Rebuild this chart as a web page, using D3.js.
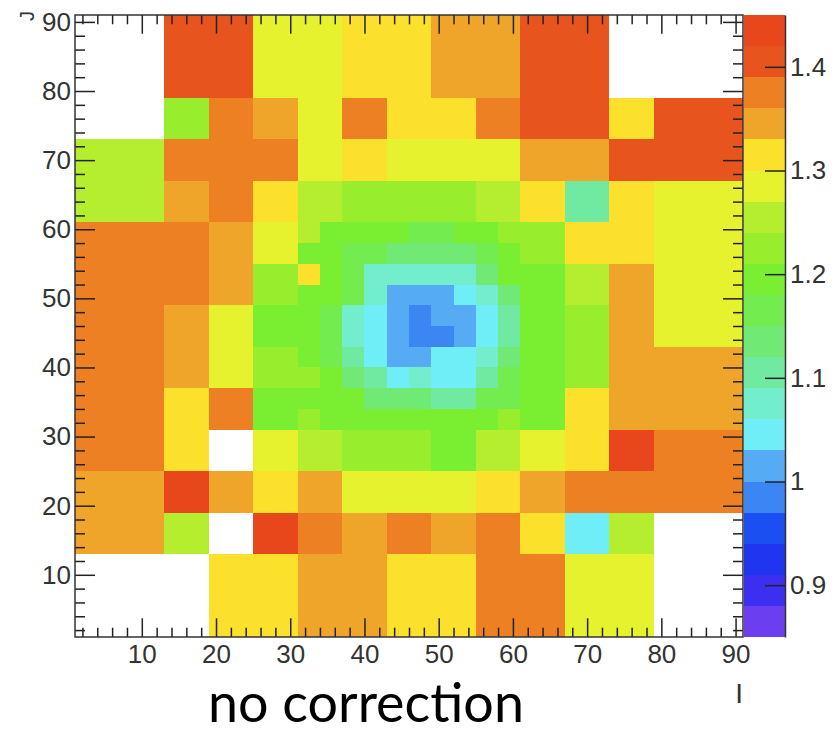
<!DOCTYPE html>
<html>
<head>
<meta charset="utf-8">
<script src="https://cdn.jsdelivr.net/npm/d3@7"></script>
<style>
  body { margin: 0; background: #fff; }
  svg { display: block; }
  .axis text { font-family: "Liberation Sans", Arial, sans-serif; font-size: 26px; fill: #333; }
  .axis line { stroke: #222; stroke-width: 1.5; }
  .axis path { stroke: #333; stroke-width: 1.5; }
</style>
</head>
<body>
<div id="chart"></div>
<script>
const _ = null;

// bin edges of the 30 x 30 histogram (i and j)
const xEdges = [1, 4, 7, 10, 13, 16, 19, 22, 25, 28, 31, 34, 37, 40, 43, 46, 49, 52, 55, 58, 61, 64, 67, 70, 73, 76, 79, 82, 85, 88, 91];
const yEdges = [1, 4, 7, 10, 13, 16, 19, 22, 25, 28, 31, 34, 37, 40, 43, 46, 49, 52, 55, 58, 61, 64, 67, 70, 73, 76, 79, 82, 85, 88, 91];

const xTickValues = [10, 20, 30, 40, 50, 60, 70, 80, 90];
const yTickValues = [10, 20, 30, 40, 50, 60, 70, 80, 90];
const zTickValues = [0.9, 1, 1.1, 1.2, 1.3, 1.4];
const zRange = [0.85, 1.45];

// 20 contour colours, lowest first
const paletteColors = [
  "#6b3ff0", "#3d2ff0", "#1f35ef", "#1b4ff2", "#3b86f2",
  "#55acf4", "#70eef8", "#72eecc", "#70eaa0", "#70ea74",
  "#72ec4e", "#7aee30", "#98ee2d", "#b4ee2e", "#e6f22e",
  "#fbe02c", "#efa42a", "#ec8022", "#e8541e", "#e8461b"
];

// ratio per bin, first row = top bin (j 88-91), null = empty bin
const ratioRows = [
  [_,_,_,_,1.40,1.40,1.40,1.40,1.28,1.28,1.28,1.28,1.32,1.32,1.32,1.32,1.35,1.35,1.35,1.35,1.40,1.40,1.40,1.40,_,_,_,_,_,_],
  [_,_,_,_,1.40,1.40,1.40,1.40,1.28,1.28,1.28,1.28,1.32,1.32,1.32,1.32,1.35,1.35,1.35,1.35,1.40,1.40,1.40,1.40,_,_,_,_,_,_],
  [_,_,_,_,1.40,1.40,1.40,1.40,1.28,1.28,1.28,1.28,1.32,1.32,1.32,1.32,1.35,1.35,1.35,1.35,1.40,1.40,1.40,1.40,_,_,_,_,_,_],
  [_,_,_,_,1.40,1.40,1.40,1.40,1.28,1.28,1.28,1.28,1.32,1.32,1.32,1.32,1.35,1.35,1.35,1.35,1.40,1.40,1.40,1.40,_,_,_,_,_,_],
  [_,_,_,_,1.22,1.22,1.37,1.37,1.35,1.35,1.28,1.28,1.37,1.37,1.32,1.32,1.32,1.32,1.37,1.37,1.40,1.40,1.40,1.40,1.32,1.32,1.40,1.40,1.40,1.40],
  [_,_,_,_,1.22,1.22,1.37,1.37,1.35,1.35,1.28,1.28,1.37,1.37,1.32,1.32,1.32,1.32,1.37,1.37,1.40,1.40,1.40,1.40,1.32,1.32,1.40,1.40,1.40,1.40],
  [1.25,1.25,1.25,1.25,1.37,1.37,1.37,1.37,1.37,1.37,1.28,1.28,1.32,1.32,1.28,1.28,1.28,1.28,1.28,1.28,1.35,1.35,1.35,1.35,1.40,1.40,1.40,1.40,1.40,1.40],
  [1.25,1.25,1.25,1.25,1.37,1.37,1.37,1.37,1.37,1.37,1.28,1.28,1.32,1.32,1.28,1.28,1.28,1.28,1.28,1.28,1.35,1.35,1.35,1.35,1.40,1.40,1.40,1.40,1.40,1.40],
  [1.25,1.25,1.25,1.25,1.35,1.35,1.37,1.37,1.32,1.32,1.25,1.25,1.22,1.22,1.22,1.22,1.22,1.22,1.25,1.25,1.32,1.32,1.10,1.10,1.32,1.32,1.28,1.28,1.28,1.28],
  [1.25,1.25,1.25,1.25,1.35,1.35,1.37,1.37,1.32,1.32,1.25,1.25,1.22,1.22,1.22,1.22,1.22,1.22,1.25,1.25,1.32,1.32,1.10,1.10,1.32,1.32,1.28,1.28,1.28,1.28],
  [1.37,1.37,1.37,1.37,1.37,1.37,1.35,1.35,1.28,1.28,1.25,1.19,1.19,1.19,1.19,1.16,1.16,1.19,1.19,1.22,1.22,1.22,1.32,1.32,1.32,1.32,1.28,1.28,1.28,1.28],
  [1.37,1.37,1.37,1.37,1.37,1.37,1.35,1.35,1.28,1.28,1.19,1.19,1.16,1.16,1.13,1.13,1.13,1.13,1.16,1.19,1.22,1.22,1.32,1.32,1.32,1.32,1.28,1.28,1.28,1.28],
  [1.37,1.37,1.37,1.37,1.37,1.37,1.35,1.35,1.22,1.22,1.32,1.19,1.16,1.08,1.08,1.08,1.08,1.08,1.13,1.19,1.19,1.19,1.25,1.25,1.35,1.35,1.28,1.28,1.28,1.28],
  [1.37,1.37,1.37,1.37,1.37,1.37,1.35,1.35,1.22,1.22,1.19,1.19,1.16,1.08,1.02,1.02,1.02,1.05,1.08,1.13,1.19,1.19,1.25,1.25,1.35,1.35,1.28,1.28,1.28,1.28],
  [1.37,1.37,1.37,1.37,1.35,1.35,1.28,1.28,1.19,1.19,1.19,1.16,1.08,1.05,1.02,0.98,1.02,1.02,1.05,1.10,1.19,1.19,1.22,1.22,1.35,1.35,1.28,1.28,1.28,1.28],
  [1.37,1.37,1.37,1.37,1.35,1.35,1.28,1.28,1.19,1.19,1.19,1.16,1.08,1.05,1.02,0.98,0.98,1.02,1.05,1.10,1.19,1.19,1.22,1.22,1.35,1.35,1.28,1.28,1.28,1.28],
  [1.37,1.37,1.37,1.37,1.35,1.35,1.28,1.28,1.22,1.22,1.19,1.16,1.10,1.05,1.02,1.02,1.05,1.05,1.08,1.13,1.19,1.19,1.22,1.22,1.35,1.35,1.35,1.35,1.35,1.35],
  [1.37,1.37,1.37,1.37,1.35,1.35,1.28,1.28,1.22,1.22,1.22,1.19,1.13,1.10,1.05,1.08,1.05,1.05,1.10,1.16,1.19,1.19,1.22,1.22,1.35,1.35,1.35,1.35,1.35,1.35],
  [1.37,1.37,1.37,1.37,1.32,1.32,1.37,1.37,1.19,1.19,1.19,1.19,1.19,1.13,1.13,1.13,1.10,1.10,1.16,1.16,1.19,1.19,1.32,1.32,1.35,1.35,1.35,1.35,1.35,1.35],
  [1.37,1.37,1.37,1.37,1.32,1.32,1.37,1.37,1.19,1.19,1.22,1.19,1.19,1.19,1.19,1.19,1.19,1.19,1.19,1.22,1.19,1.19,1.32,1.32,1.35,1.35,1.35,1.35,1.35,1.35],
  [1.37,1.37,1.37,1.37,1.32,1.32,_,_,1.28,1.28,1.25,1.25,1.22,1.22,1.22,1.22,1.19,1.19,1.25,1.25,1.28,1.28,1.32,1.32,1.43,1.43,1.37,1.37,1.37,1.37],
  [1.37,1.37,1.37,1.37,1.32,1.32,_,_,1.28,1.28,1.25,1.25,1.22,1.22,1.22,1.22,1.19,1.19,1.25,1.25,1.28,1.28,1.32,1.32,1.43,1.43,1.37,1.37,1.37,1.37],
  [1.35,1.35,1.35,1.35,1.43,1.43,1.35,1.35,1.32,1.32,1.35,1.35,1.28,1.28,1.28,1.28,1.28,1.28,1.32,1.32,1.35,1.35,1.37,1.37,1.37,1.37,1.37,1.37,1.37,1.37],
  [1.35,1.35,1.35,1.35,1.43,1.43,1.35,1.35,1.32,1.32,1.35,1.35,1.28,1.28,1.28,1.28,1.28,1.28,1.32,1.32,1.35,1.35,1.37,1.37,1.37,1.37,1.37,1.37,1.37,1.37],
  [1.35,1.35,1.35,1.35,1.25,1.25,_,_,1.43,1.43,1.37,1.37,1.35,1.35,1.37,1.37,1.35,1.35,1.37,1.37,1.32,1.32,1.05,1.05,1.25,1.25,_,_,_,_],
  [1.35,1.35,1.35,1.35,1.25,1.25,_,_,1.43,1.43,1.37,1.37,1.35,1.35,1.37,1.37,1.35,1.35,1.37,1.37,1.32,1.32,1.05,1.05,1.25,1.25,_,_,_,_],
  [_,_,_,_,_,_,1.32,1.32,1.32,1.32,1.35,1.35,1.35,1.35,1.32,1.32,1.32,1.32,1.37,1.37,1.37,1.37,1.28,1.28,1.28,1.28,_,_,_,_],
  [_,_,_,_,_,_,1.32,1.32,1.32,1.32,1.35,1.35,1.35,1.35,1.32,1.32,1.32,1.32,1.37,1.37,1.37,1.37,1.28,1.28,1.28,1.28,_,_,_,_],
  [_,_,_,_,_,_,1.32,1.32,1.32,1.32,1.35,1.35,1.35,1.35,1.32,1.32,1.32,1.32,1.37,1.37,1.37,1.37,1.28,1.28,1.28,1.28,_,_,_,_],
  [_,_,_,_,_,_,1.32,1.32,1.32,1.32,1.35,1.35,1.35,1.35,1.32,1.32,1.32,1.32,1.37,1.37,1.37,1.37,1.28,1.28,1.28,1.28,_,_,_,_]
];

function draw() {

  // Dimensions
  const dimensions = {
    width: 832,
    height: 734,
    left: 75,
    right: 743,
    top: 15,
    bottom: 637,
    barLeft: 744,
    barRight: 785
  };

  const svg = d3.select("#chart")
    .append("svg")
    .attr("width", dimensions.width)
    .attr("height", dimensions.height);

  // Scales
  const xScale = d3.scaleLinear()
    .domain([xEdges[0], xEdges[xEdges.length - 1]])
    .range([dimensions.left, dimensions.right]);

  const yScale = d3.scaleLinear()
    .domain([yEdges[0], yEdges[yEdges.length - 1]])
    .range([dimensions.bottom, dimensions.top]);

  const zScale = d3.scaleLinear()
    .domain(zRange)
    .range([dimensions.bottom, dimensions.top]);

  const colorScale = d3.scaleQuantize()
    .domain(zRange)
    .range(paletteColors);

  // Cells
  const cells = [];
  ratioRows.forEach((row, r) => {
    const j = ratioRows.length - 1 - r;
    row.forEach((v, i) => {
      if (v === null) return;
      cells.push({ x0: xEdges[i], x1: xEdges[i + 1], y0: yEdges[j], y1: yEdges[j + 1], v: v });
    });
  });

  svg.append("g")
    .selectAll("rect")
    .data(cells)
    .join("rect")
    .attr("x", d => xScale(d.x0))
    .attr("y", d => yScale(d.y1))
    .attr("width", d => xScale(d.x1) - xScale(d.x0))
    .attr("height", d => yScale(d.y0) - yScale(d.y1))
    .attr("fill", d => colorScale(d.v))
    .attr("shape-rendering", "crispEdges");

  // Axes, ticks pointing into the frame
  const minorX = d3.range(2, 91, 2).filter(v => v % 10 !== 0);
  const minorY = d3.range(2, 91, 2).filter(v => v % 10 !== 0);
  const noDomain = g => g.select(".domain").remove();

  const addAxis = (axis, x, y) => svg.append("g")
    .classed("axis", true)
    .attr("transform", `translate(${x}, ${y})`)
    .call(axis)
    .call(noDomain);

  addAxis(d3.axisBottom(xScale).tickValues(xTickValues).tickSize(-18.7).tickPadding(8), 0, dimensions.bottom);
  addAxis(d3.axisBottom(xScale).tickValues(minorX).tickSize(-9.3).tickFormat(""), 0, dimensions.bottom);
  addAxis(d3.axisTop(xScale).tickValues(xTickValues).tickSize(-18.7).tickFormat(""), 0, dimensions.top);
  addAxis(d3.axisTop(xScale).tickValues(minorX).tickSize(-9.3).tickFormat(""), 0, dimensions.top);

  addAxis(d3.axisLeft(yScale).tickValues(yTickValues).tickSize(-20).tickPadding(4), dimensions.left, 0);
  addAxis(d3.axisLeft(yScale).tickValues(minorY).tickSize(-10).tickFormat(""), dimensions.left, 0);
  addAxis(d3.axisRight(yScale).tickValues(yTickValues).tickSize(-20).tickFormat(""), dimensions.right, 0);
  addAxis(d3.axisRight(yScale).tickValues(minorY).tickSize(-10).tickFormat(""), dimensions.right, 0);

  // Frame
  svg.append("rect")
    .attr("x", dimensions.left)
    .attr("y", dimensions.top)
    .attr("width", dimensions.right - dimensions.left)
    .attr("height", dimensions.bottom - dimensions.top)
    .attr("fill", "none")
    .attr("stroke", "#333")
    .attr("stroke-width", 1.5);

  // Palette
  svg.append("g")
    .selectAll("rect")
    .data(paletteColors)
    .join("rect")
    .attr("x", dimensions.barLeft)
    .attr("width", dimensions.barRight - dimensions.barLeft)
    .attr("y", d => zScale(colorScale.invertExtent(d)[1]))
    .attr("height", d => zScale(colorScale.invertExtent(d)[0]) - zScale(colorScale.invertExtent(d)[1]))
    .attr("fill", d => d)
    .attr("shape-rendering", "crispEdges");

  svg.append("g")
    .classed("axis", true)
    .attr("transform", `translate(${dimensions.barRight}, 0)`)
    .call(d3.axisRight(zScale).tickValues(zTickValues).tickSize(-20).tickSizeOuter(0).tickPadding(5).tickFormat(d => String(d)));

  // Axis titles
  svg.append("text")
    .attr("x", dimensions.right)
    .attr("y", 703)
    .attr("text-anchor", "end")
    .style("font-family", "'Liberation Sans', Arial, sans-serif")
    .style("font-size", "28px")
    .attr("fill", "#333")
    .text("I");

  svg.append("text")
    .attr("transform", "translate(34, 21) rotate(-90)")
    .attr("text-anchor", "start")
    .style("font-family", "'Liberation Sans', Arial, sans-serif")
    .style("font-size", "20px")
    .attr("fill", "#333")
    .text("J");

  // Caption
  const caption = svg.append("text")
    .attr("x", 208)
    .attr("y", 722)
    .style("font-family", "Lato, 'Open Sans', sans-serif")
    .style("font-size", "50px")
    .attr("fill", "#000")
    .text("no correction");
  const len = caption.node().getComputedTextLength();
  caption.style("font-size", `${50 * 316 / len}px`);
}

draw();
</script>
</body>
</html>
